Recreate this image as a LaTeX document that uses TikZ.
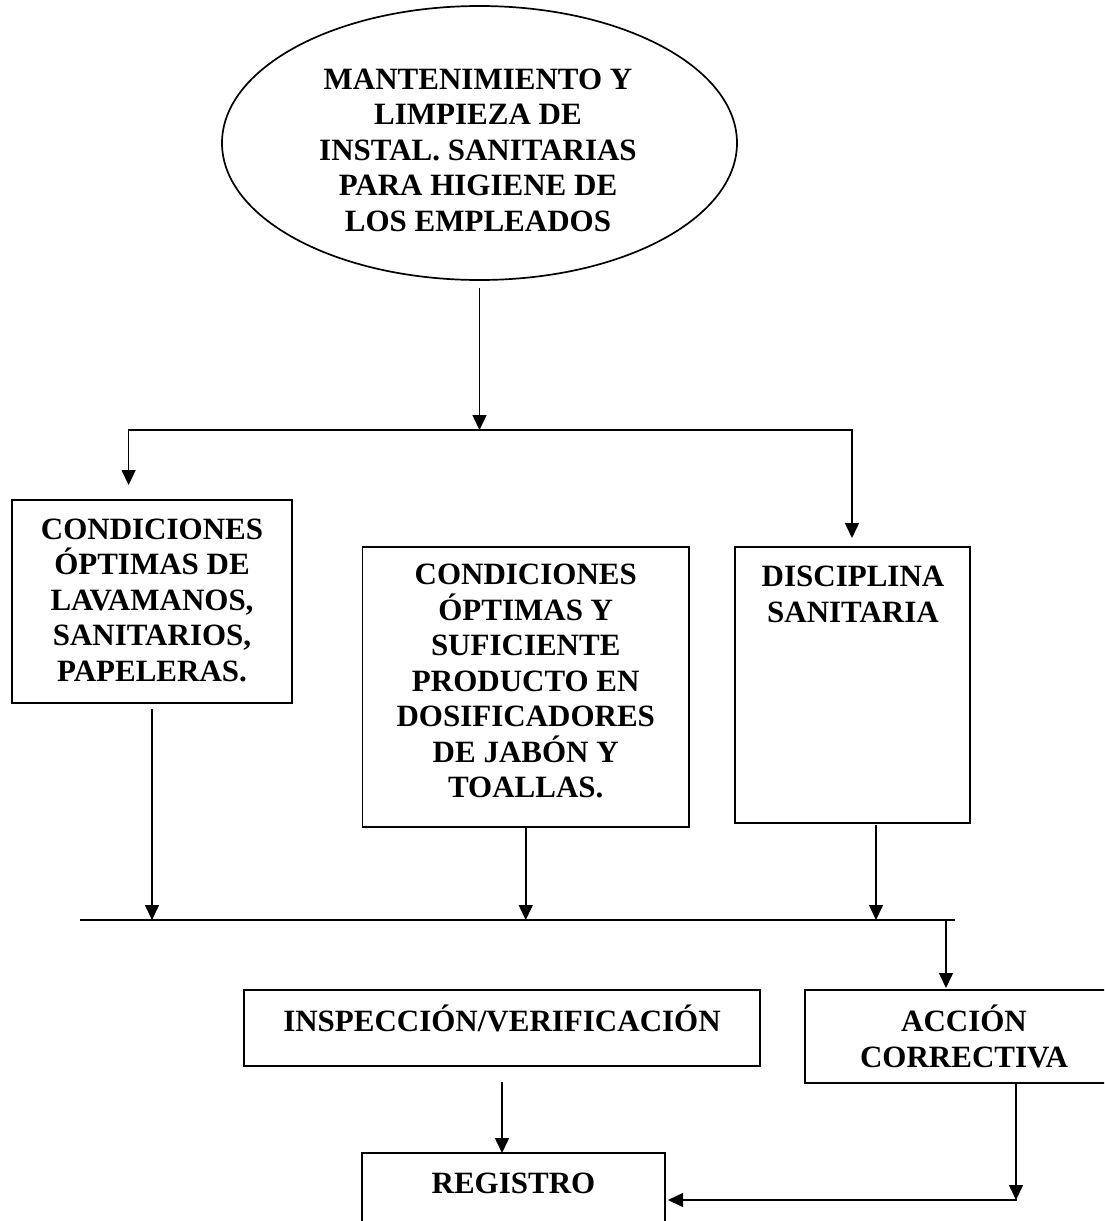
\documentclass[tikz,border=0pt]{standalone}
\usepackage{fontspec}
\setmainfont{Liberation Serif}
\usetikzlibrary{arrows.meta,shapes.geometric}
\begin{document}
\begin{tikzpicture}[x=1pt,y=-1pt,
  box/.style={draw, line width=1.7pt, inner sep=0pt, outer sep=0pt},
  txt/.style={font=\bfseries\fontsize{31pt}{35.5pt}\selectfont, align=center, inner sep=0pt},
  conn/.style={line width=1.5pt, line cap=rect},
  arr/.style={conn, -{Triangle[length=15pt,width=14pt]}}]
\clip (0,0) rectangle (1104,1221);
\useasboundingbox (0,0) rectangle (1104,1221);
\fill[white] (0,0) rectangle (1104,1221);

% nodes
\node[box, ellipse, minimum width=515pt, minimum height=274pt] (top) at (479.5,143) {};
\node[txt] (toptxt) at (478,150) {MANTENIMIENTO Y\\LIMPIEZA DE\\INSTAL. SANITARIAS\\PARA HIGIENE DE\\LOS EMPLEADOS};

\node[box, minimum width=280pt, minimum height=203pt] (c1) at (152,601.5) {};
\node[txt] (c1t) at (152,600) {CONDICIONES\\ÓPTIMAS DE\\LAVAMANOS,\\SANITARIOS,\\PAPELERAS.};

\node[box, minimum width=326.5pt, minimum height=280pt] (c2) at (525.75,687) {};
\node[txt] (c2t) at (525.75,681) {CONDICIONES\\ÓPTIMAS Y\\SUFICIENTE\\PRODUCTO EN\\DOSIFICADORES\\DE JABÓN Y\\TOALLAS.};

\node[box, minimum width=235pt, minimum height=276pt] (dis) at (852.5,685) {};
\node[txt] (dist) at (853,594.5) {DISCIPLINA\\SANITARIA};

\node[box, minimum width=516pt, minimum height=76pt] (insp) at (502,1028) {};
\node[txt] (inspt) at (502,1018) {INSPECCIÓN/VERIFICACIÓN};

\node[box, minimum width=318pt, minimum height=93pt] (acc) at (964,1036.5) {};
\node[txt] (acct) at (964,1036.5) {ACCIÓN\\CORRECTIVA};

\node[box, minimum width=303pt, minimum height=100pt] (reg) at (513.5,1203) {};
\node[txt] (regt) at (513.5,1183) {REGISTRO};

% junction coordinates
\coordinate (jL) at (128.6,430);
\coordinate (jR) at (852,430);
\coordinate (bL) at (81,920);
\coordinate (bR) at (954,920);
\coordinate (bD) at (946,920);
\coordinate (aR) at (1016,1200);

% connectors
\draw[arr, shorten <=9pt] (top.south) -- (top.south |- jL);
\draw[arr, shorten >=15pt] (jR) -- (jL) -- (jL |- c1.north);
\draw[arr, shorten >=9pt] (jR) -- (jR |- dis.north);
\draw[conn] (bL) -- (bR);
\draw[arr, shorten <=7pt] (c1.south) -- (c1.south |- bL);
\draw[arr] (c2.south) -- (c2.south |- bL);
\draw[arr, shorten <=3pt] ([xshift=23.5pt]dis.south) -- ([xshift=23.5pt]dis.south |- bL);
\draw[arr, shorten >=2pt] (bD) -- (bD |- acc.north);
\draw[arr, shorten <=17pt] (insp.south) -- (insp.south |- reg.north);
\draw[arr] (acc.south -| aR) -- (aR);
\draw[arr, shorten >=3pt] (aR) -- (reg.east |- aR);
\end{tikzpicture}
\end{document}
